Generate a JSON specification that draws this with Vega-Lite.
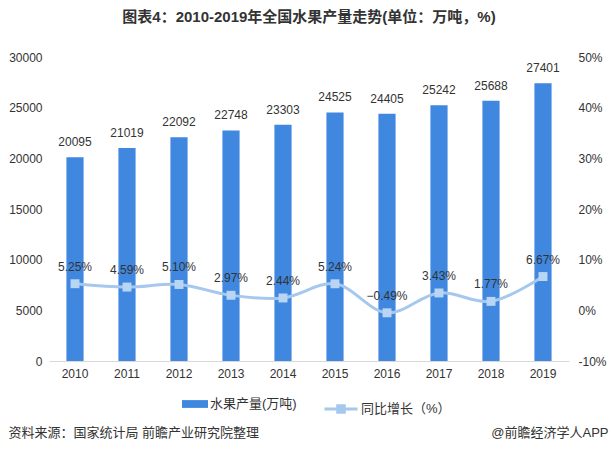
{
  "$schema": "https://vega.github.io/schema/vega-lite/v6.json",
  "autosize": {"type": "none"},
  "width": 520,
  "height": 304,
  "padding": {"left": 49, "top": 57, "right": 42, "bottom": 90},
  "background": "white",
  "title": {
    "text": "图表4：2010-2019年全国水果产量走势(单位：万吨，%)",
    "anchor": "middle",
    "offset": 26,
    "fontSize": 15,
    "fontWeight": "bold",
    "color": "#333333",
    "font": "Liberation Sans, Noto Sans CJK SC"
  },
  "config": {
    "view": {"stroke": null},
    "font": "Liberation Sans, Noto Sans CJK SC"
  },
  "data": {
    "values": [
      {"year": "2010", "output": 20095, "growth": 5.25},
      {"year": "2011", "output": 21019, "growth": 4.59},
      {"year": "2012", "output": 22092, "growth": 5.10},
      {"year": "2013", "output": 22748, "growth": 2.97},
      {"year": "2014", "output": 23303, "growth": 2.44},
      {"year": "2015", "output": 24525, "growth": 5.24},
      {"year": "2016", "output": 24405, "growth": -0.49},
      {"year": "2017", "output": 25242, "growth": 3.43},
      {"year": "2018", "output": 25688, "growth": 1.77},
      {"year": "2019", "output": 27401, "growth": 6.67}
    ]
  },
  "encoding": {
    "x": {
      "field": "year",
      "type": "nominal",
      "sort": null,
      "scale": {"paddingInner": 0.67, "paddingOuter": 0.335},
      "axis": {
        "title": "资料来源：国家统计局 前瞻产业研究院整理",
        "titleX": -41,
        "titleY": 71,
        "titleAlign": "left",
        "titleAnchor": null,
        "titleBaseline": "middle",
        "titleFontSize": 13,
        "titleFontWeight": "normal",
        "titleColor": "#333333",
        "labelAngle": 0,
        "labelFontSize": 12,
        "labelColor": "#333333",
        "labelPadding": 7,
        "ticks": false,
        "domainColor": "#D9D9D9",
        "domainWidth": 1,
        "grid": false
      }
    }
  },
  "layer": [
    {
      "encoding": {
        "y": {
          "field": "output",
          "type": "quantitative",
          "scale": {"domain": [0, 30000]},
          "axis": {
            "orient": "left",
            "title": null,
            "values": [0, 5000, 10000, 15000, 20000, 25000, 30000],
            "format": "d",
            "labelFontSize": 12,
            "labelColor": "#333333",
            "labelPadding": 7,
            "ticks": false,
            "domain": false,
            "grid": false
          }
        }
      },
      "layer": [
        {
          "mark": {"type": "bar"},
          "encoding": {
            "color": {
              "datum": "水果产量(万吨)",
              "scale": {"range": ["#3F87DF"]},
              "legend": {
                "orient": "none",
                "legendX": 133,
                "legendY": 334,
                "title": null,
                "symbolType": "M-1,-0.3H1V0.3H-1Z",
                "symbolSize": 676,
                "symbolStrokeWidth": 0,
                "labelFontSize": 13,
                "labelColor": "#333333",
                "labelOffset": 2
              }
            }
          }
        },
        {
          "mark": {"type": "text", "dy": -8, "baseline": "bottom", "fontSize": 12, "color": "#333333"},
          "encoding": {"text": {"field": "output", "type": "quantitative", "format": "d"}}
        }
      ]
    },
    {
      "encoding": {
        "y": {
          "field": "growth",
          "type": "quantitative",
          "scale": {"domain": [-10, 50]},
          "axis": {
            "orient": "right",
            "title": "@前瞻经济学人APP",
            "titleAngle": 0,
            "titleX": 39,
            "titleY": 375,
            "titleAlign": "right",
            "titleAnchor": null,
            "titleBaseline": "middle",
            "titleFontSize": 13,
            "titleFontWeight": "normal",
            "titleColor": "#333333",
            "values": [-10, 0, 10, 20, 30, 40, 50],
            "labelExpr": "datum.value + '%'",
            "labelFontSize": 12,
            "labelColor": "#333333",
            "labelPadding": 9,
            "ticks": false,
            "domain": false,
            "grid": false
          }
        }
      },
      "layer": [
        {
          "mark": {"type": "line", "interpolate": "catmull-rom", "strokeWidth": 3},
          "encoding": {
            "stroke": {
              "datum": "同比增长（%）",
              "scale": {"range": ["#A6C8EE"]},
              "legend": {
                "orient": "none",
                "legendX": 274,
                "legendY": 334,
                "title": null,
                "symbolType": "M-1,0H1M-0.2,-0.2H0.2V0.2H-0.2Z",
                "symbolSize": 1089,
                "symbolStrokeWidth": 3,
                "symbolFillColor": "#A6C8EE",
                "labelFontSize": 13,
                "labelColor": "#333333",
                "labelOffset": 2
              }
            }
          }
        },
        {
          "mark": {"type": "point", "shape": "square", "size": 80, "filled": true, "color": "#B9D5F4", "opacity": 1},
          "encoding": {}
        },
        {
          "mark": {"type": "text", "dy": -10, "baseline": "bottom", "fontSize": 12, "color": "#333333", "text": {"expr": "format(datum.growth, '.2f') + '%'"}},
          "encoding": {}
        }
      ]
    }
  ],
  "resolve": {"scale": {"y": "independent"}}
}
